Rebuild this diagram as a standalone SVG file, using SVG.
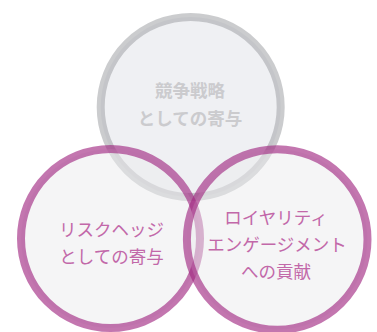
<svg xmlns="http://www.w3.org/2000/svg" width="377" height="332" viewBox="0 0 377 332">
  <style>
    .ring { stroke-width: 8; }
    .gray { fill: rgb(224,226,231); fill-opacity: 0.5; stroke: #a0a2a6; stroke-opacity: 0.55; }
    .purple { fill: rgb(236,236,238); fill-opacity: 0.5; stroke: #a02680; stroke-opacity: 0.63; }
    .label { font-family: "Noto Sans CJK JP", "Noto Sans", sans-serif; font-size: 17.5px; text-anchor: middle; }
    .gl { fill: #cbcbce; font-weight: bold; }
    .pl { fill: #c268a9; font-weight: normal; }
  </style>
  <rect width="377" height="332" fill="#ffffff"/>
  <g id="competitive-strategy">
    <circle class="ring gray" cx="190.7" cy="107" r="90"/>
    <text class="label gl" x="190" y="97">競争戦略</text>
    <text class="label gl" x="190" y="125">としての寄与</text>
  </g>
  <g id="risk-hedge">
    <circle class="ring purple" cx="110.5" cy="238.5" r="89.5"/>
    <text class="label pl" x="111.5" y="236">リスクヘッジ</text>
    <text class="label pl" x="111.5" y="263">としての寄与</text>
  </g>
  <g id="loyalty-engagement">
    <circle class="ring purple" cx="277.2" cy="239.5" r="90.3"/>
    <text class="label pl" x="276" y="224">ロイヤリティ</text>
    <text class="label pl" x="277" y="251">エンゲージメント</text>
    <text class="label pl" x="276" y="278">への貢献</text>
  </g>
  <g id="connectors"/>
</svg>
